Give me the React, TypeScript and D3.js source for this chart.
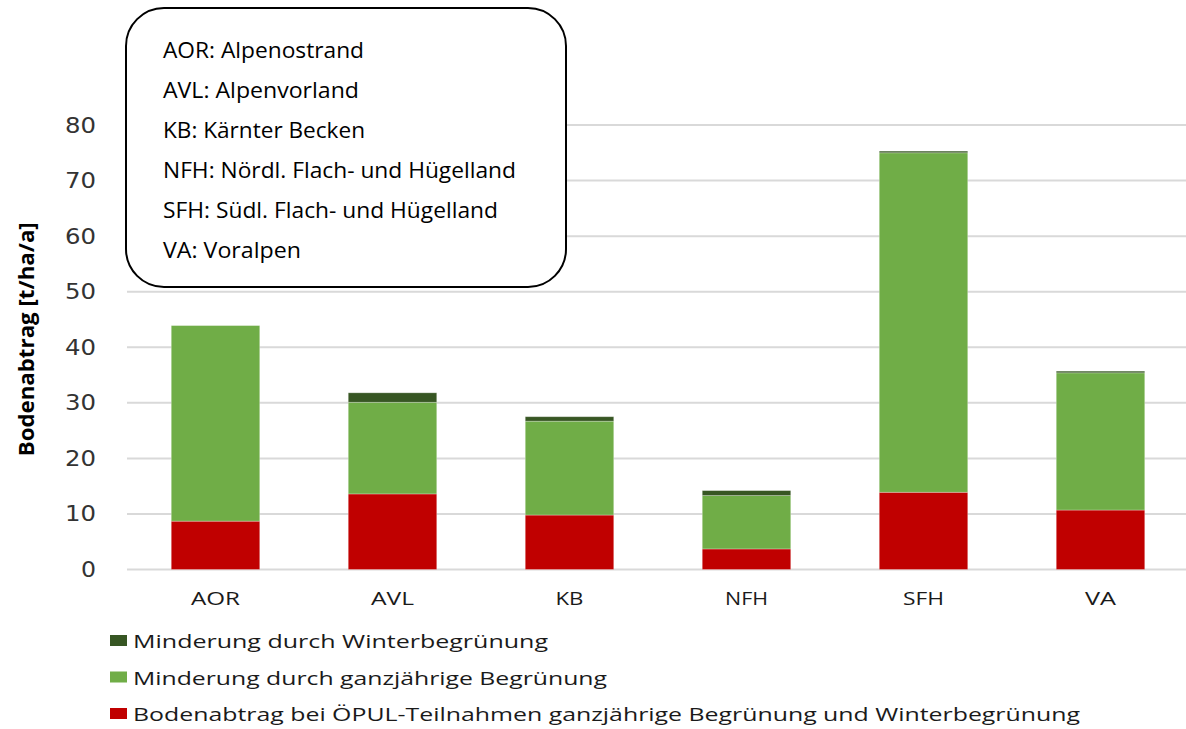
import React from "react";
import * as d3 from "d3";

const categories = ["AOR", "AVL", "KB", "NFH", "SFH", "VA"];
const bodenabtrag = [8.7, 13.6, 9.8, 3.7, 13.9, 10.7];
const minderungGanzjaehrig = [35.2, 16.5, 16.9, 9.6, 61.1, 24.7];
const minderungWinter = [0.0, 1.7, 0.8, 0.9, 0.3, 0.3];
const yTicks = [0, 10, 20, 30, 40, 50, 60, 70, 80];
const seriesKeys = ["rot", "gruen", "dunkel"];
const seriesNames = [
  "Bodenabtrag bei ÖPUL-Teilnahmen ganzjährige Begrünung und Winterbegrünung",
  "Minderung durch ganzjährige Begrünung",
  "Minderung durch Winterbegrünung",
];
const abbreviations = [
  "AOR: Alpenostrand",
  "AVL: Alpenvorland",
  "KB: Kärnter Becken",
  "NFH: Nördl. Flach- und Hügelland",
  "SFH: Südl. Flach- und Hügelland",
  "VA: Voralpen",
];
const yLabel = "Bodenabtrag [t/ha/a]";

// styles
const colors = ["#C00000", "#70AD47", "#375623"];
const boxTextWidths = [201, 196, 202, 353, 335, 138];
const catWidths = [49, 43, 28, 43, 41, 31];
const legendWidths = [947, 474, 415];

export default function App() {
  const W = 1186;
  const H = 729;
  const x = d3
    .scaleBand<string>()
    .domain(categories)
    .range([127, 1189])
    .paddingInner(0.5)
    .paddingOuter(0.25);
  const y = d3.scaleLinear().domain([0, 80]).range([569.5, 125]);

  const table = categories.map((c, i) => ({
    cat: c,
    rot: bodenabtrag[i],
    gruen: minderungGanzjaehrig[i],
    dunkel: minderungWinter[i],
  }));
  const stacked = d3.stack<any>().keys(seriesKeys)(table);

  const legendOrder = [2, 1, 0];
  const legendY = [635, 671.5, 708];

  return (
    <svg
      width={W}
      height={H}
      style={{ position: "fixed", left: 0, top: 0, background: "#fff" }}
    >
      <rect x={0} y={0} width={W} height={H} fill="#fff" />
      {yTicks.map((t) => (
        <line
          key={t}
          x1={127}
          x2={1186}
          y1={y(t)}
          y2={y(t)}
          stroke="#D9D9D9"
          strokeWidth={2}
        />
      ))}
      {yTicks.map((t) => (
        <text
          key={"l" + t}
          x={96}
          y={y(t) + 7.5}
          textAnchor="end"
          fontFamily="DejaVu Sans, Verdana, sans-serif"
          fontSize={20.5}
          fill="#333"
          textLength={t === 0 ? 15 : 31}
          lengthAdjust="spacingAndGlyphs"
        >
          {t}
        </text>
      ))}
      <text
        transform={`translate(34, ${y(40) - 8}) rotate(-90)`}
        textAnchor="middle"
        fontFamily="Open Sans, sans-serif"
        fontWeight="bold"
        fontSize={22}
        fill="#000"
        textLength={234}
        lengthAdjust="spacingAndGlyphs"
      >
        {yLabel}
      </text>
      {stacked.map((s, si) => (
        <g key={s.key} fill={colors[si]}>
          {s.map((d, i) =>
            d[1] - d[0] > 0 ? (
              <rect
                key={i}
                x={x(categories[i])}
                width={x.bandwidth()}
                y={y(d[1])}
                height={y(d[0]) - y(d[1])}
                stroke="rgba(255,255,255,0.35)"
                strokeWidth={0.8}
              />
            ) : null
          )}
        </g>
      ))}
      {categories.map((c, i) => (
        <text
          key={c}
          x={(x(c) as number) + x.bandwidth() / 2}
          y={604.5}
          textAnchor="middle"
          fontFamily="Open Sans, sans-serif"
          fontSize={17.5}
          fill="#1a1a1a"
          textLength={catWidths[i]}
          lengthAdjust="spacingAndGlyphs"
        >
          {c}
        </text>
      ))}
      <rect
        x={126}
        y={8}
        width={440}
        height={279}
        rx={38}
        ry={38}
        fill="#fff"
        stroke="#000"
        strokeWidth={2}
      />
      {abbreviations.map((a, i) => (
        <text
          key={a}
          x={163}
          y={58 + i * 40}
          fontFamily="Open Sans, sans-serif"
          fontSize={22.5}
          fill="#000"
          textLength={boxTextWidths[i]}
          lengthAdjust="spacingAndGlyphs"
        >
          {a}
        </text>
      ))}
      {legendOrder.map((si, k) => (
        <g key={si}>
          <rect x={110} y={legendY[k]} width={17} height={11} fill={colors[si]} />
          <text
            x={133}
            y={legendY[k] + 13}
            fontFamily="Open Sans, sans-serif"
            fontSize={18.5}
            fill="#1a1a1a"
            textLength={legendWidths[si]}
            lengthAdjust="spacingAndGlyphs"
          >
            {seriesNames[si]}
          </text>
        </g>
      ))}
    </svg>
  );
}
